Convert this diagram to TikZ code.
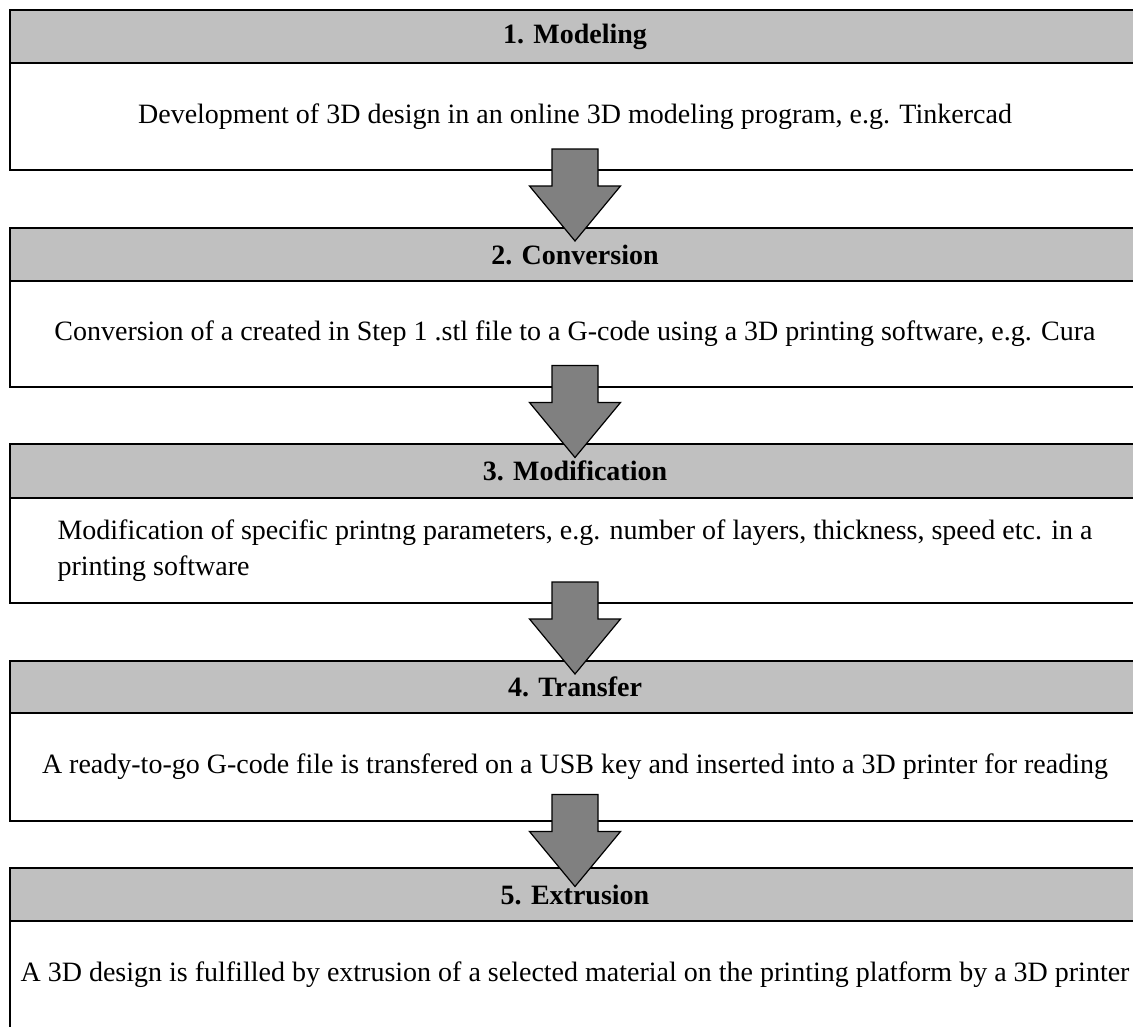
\documentclass[tikz,border=0pt]{standalone}
\usepackage{fontspec}
\setmainfont{Liberation Serif}
\usepackage{tikz}
\usetikzlibrary{positioning,calc}
\definecolor{headgray}{RGB}{192,192,192}
\definecolor{arrowgray}{RGB}{128,128,128}
\def\BoxWidth{1130pt}
\def\HeadHeight{53pt}
\def\BodyHeight{107pt}
\def\BoxGap{58pt}
\def\StepFont{\fontsize{28}{36}\selectfont}
\tikzset{
  stephead/.style={draw,line width=2.6pt,fill=headgray,minimum width=\BoxWidth,
    minimum height=\HeadHeight,inner sep=0pt,outer sep=0pt,font=\StepFont\bfseries},
  stepbody/.style={draw,line width=2.6pt,fill=white,minimum width=\BoxWidth,
    minimum height=\BodyHeight,inner sep=0pt,outer sep=0pt,font=\StepFont},
  blockarrow/.style={draw=black,fill=arrowgray,line width=1.2pt,line join=miter}
}
% block arrow between two boxes
\newcommand{\DownArrow}[3]{%
  \coordinate (#3) at ($(#1.south)!0.5!(#2.north)+(0,-4)$);
  \filldraw[blockarrow] ($(#3)+(-23,-46)$) -- ($(#3)+(23,-46)$) -- ($(#3)+(23,-9)$)
    -- ($(#3)+(45.5,-9)$) -- ($(#3)+(0,46)$) -- ($(#3)+(-45.5,-9)$)
    -- ($(#3)+(-23,-9)$) -- cycle;}

\begin{document}
\begin{tikzpicture}[x=1pt,y=-1pt]
  \useasboundingbox (0,0) rectangle (1133,1026);
  %
  \node[stephead] (h1) at (575,36.5) {1. Modeling};
  \node[stepbody,below=0pt of h1] (b1) {Development of 3D design in an online 3D modeling program, e.g. Tinkercad};
  %
  \node[stephead,below=\BoxGap of b1] (h2) {2. Conversion};
  \node[stepbody,below=0pt of h2,minimum height=106pt] (b2) {Conversion of a created in Step 1 .stl file to a G-code using a 3D printing software, e.g. Cura};
  %
  \node[stephead,below=57pt of b2,minimum height=54pt] (h3) {3. Modification};
  \node[stepbody,below=0pt of h3,minimum height=105pt,align=left] (b3) {Modification of specific printng parameters, e.g. number of layers, thickness, speed etc. in a\\printing software};
  %
  \node[stephead,below=\BoxGap of b3,minimum height=52pt] (h4) {4. Transfer};
  \node[stepbody,below=0pt of h4,minimum height=108pt] (b4) {A ready-to-go G-code file is transfered on a USB key and inserted into a 3D printer for reading};
  %
  \node[stephead,below=47pt of b4] (h5) {5. Extrusion};
  \node[stepbody,below=0pt of h5] (b5) {A 3D design is fulfilled by extrusion of a selected material on the printing platform by a 3D printer};
  %
  \DownArrow{b1}{h2}{a1}
  \DownArrow{b2}{h3}{a2}
  \DownArrow{b3}{h4}{a3}
  \DownArrow{b4}{h5}{a4}
\end{tikzpicture}
\end{document}
